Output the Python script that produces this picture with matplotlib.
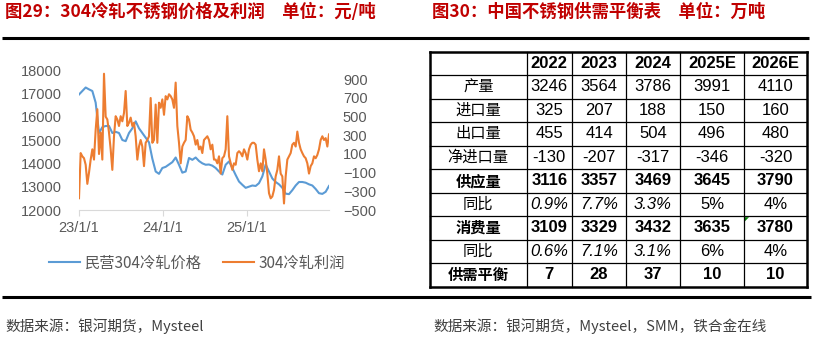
import numpy as np
import pandas as pd
import matplotlib
matplotlib.use("Agg")
import matplotlib.pyplot as plt
from matplotlib.patches import Polygon

W, H = 813, 337
CJK = ["Noto Sans CJK SC", "DejaVu Sans"]
NUM = ["Liberation Sans Narrow", "Liberation Sans", "DejaVu Sans"]
RED = "#C00000"
BLUE = "#5B9BD5"
ORANGE = "#ED7D31"
GRAY = "#595959"

# --- fig 29: 304 cold-rolled price (left axis) and profit (right axis) ---
price = [16950, 17100, 17250, 17170, 17100, 16600, 15300, 15550, 15600, 15600,
         15300, 15350, 15300, 15000, 14950, 15300, 15500, 15800, 15500, 15300,
         15100, 14900, 14200, 13650, 13550, 13800, 13850, 13950, 14050, 14250,
         13940, 13600, 13650, 14230, 14150, 14250, 14100, 14000, 13940, 13950,
         13900, 13800, 13650, 13520, 13940, 14080, 13800, 13500, 13220, 13080,
         12950, 13000, 13050, 13030, 13150, 13440, 13950, 13650, 13350, 13200,
         13100, 12950, 12700, 12680, 12850, 13050, 13200, 13200, 13170, 13100,
         13050, 12900, 12720, 12690, 12780, 13030]
profit = [-374, 110, 75, 55, -15, -220, -100, 40, 150, 40,
          360, 580, 100, 330, 40, 960, 500, 470, 330, 150,
          -70, 290, 505, 470, 400, 505, 450, 540, 775, 400,
          435, 490, 400, 435, 290, 40, 180, 250, 180, -30,
          220, 250, 290, 700, 220, 250, 630, 220, 650, 595,
          685, 520, 720, 685, 740, 720, 685, 595, 865, 400,
          220, 0, 180, 220, 250, 505, 470, 360, 330, 290,
          200, 250, 150, 180, 110, 250, 270, 290, 250, 150,
          200, 40, 40, 0, 75, -110, 55, 75, 150, 505,
          75, 0, -70, 0, -15, 110, 130, 110, 75, 150,
          110, 40, 150, 200, 220, 220, 200, 40, -85, 0,
          -85, 150, 40, -110, -320, -375, -355, -285, -140, -70,
          75, -110, -140, -430, -140, 40, 75, 110, 200, 220,
          180, 340, 220, 150, 110, 75, 55, 0, -110, -30,
          0, 75, 55, 90, 150, 250, 290, 250, 270, 180,
          310]
start, end = "2023-01-01", "2025-12-26"
price_dates = pd.date_range(start, end, periods=len(price))
profit_dates = pd.date_range(start, end, periods=len(profit))
year_ticks = pd.to_datetime(["2023-01-01", "2024-01-01", "2025-01-01"])
year_labels = ["23/1/1", "24/1/1", "25/1/1"]

# --- fig 30: stainless steel supply/demand balance (10k t) ---
years = ["2022", "2023", "2024", "2025E", "2026E"]
row_labels = ["产量", "进口量", "出口量", "净进口量", "供应量", "同比", "消费量", "同比", "供需平衡"]
production = [3246, 3564, 3786, 3991, 4110]
imports = [325, 207, 188, 150, 160]
exports = [455, 414, 504, 496, 480]
net_imports = [-130, -207, -317, -346, -320]
supply = [3116, 3357, 3469, 3645, 3790]
supply_yoy = ["0.9%", "7.7%", "3.3%", "5%", "4%"]
consumption = [3109, 3329, 3432, 3635, 3780]
consumption_yoy = ["0.6%", "7.1%", "3.1%", "6%", "4%"]
balance = [7, 28, 37, 10, 10]

fig = plt.figure(figsize=(W / 100, H / 100), dpi=100)

# pixel-space overlay for titles, rules, table, sources
bg = fig.add_axes([0, 0, 1, 1])
bg.set_xlim(0, W); bg.set_ylim(H, 0)
bg.axis("off")

bg.text(5, 12, "图29：304冷轧不锈钢价格及利润　单位：元/吨", family=CJK, fontsize=12.5,
        fontweight="bold", color=RED, va="center", ha="left")
bg.text(432, 12, "图30：中国不锈钢供需平衡表　单位：万吨", family=CJK, fontsize=12.5,
        fontweight="bold", color=RED, va="center", ha="left")
bg.plot([2, 809], [37.7, 37.7], color="black", lw=2.2, solid_capstyle="butt")
bg.plot([2, 811], [297, 297], color="black", lw=2.2, solid_capstyle="butt")
bg.text(5, 326.5, "数据来源：银河期货，Mysteel", family=CJK, fontsize=10.5,
        color="#404040", va="center", ha="left")
bg.text(433, 326.5, "数据来源：银河期货，Mysteel，SMM，铁合金在线", family=CJK, fontsize=10.5,
        color="#404040", va="center", ha="left")

# line chart
ax = fig.add_axes([79 / W, 1 - 210 / H, 250 / W, 140 / H])
ax.patch.set_alpha(0)
l1, = ax.plot(price_dates, price, color=BLUE, lw=1.5, label="民营304冷轧价格")
ax.set_ylim(12000, 18000)
ax.set_yticks(np.arange(12000, 18001, 1000))
ax.set_xlim(pd.Timestamp(start), pd.Timestamp(end))
ax.set_xticks(year_ticks)
ax.set_xticklabels(year_labels)
ax2 = ax.twinx()
l2, = ax2.plot(profit_dates, profit, color=ORANGE, lw=1.5, label="304冷轧利润")
ax2.set_ylim(-500, 1000)
ax2.set_yticks(np.arange(-500, 901, 200))
for a in (ax, ax2):
    for s in ("top", "left", "right"):
        a.spines[s].set_visible(False)
    a.spines["bottom"].set_color("#D9D9D9")
ax2.spines["bottom"].set_visible(False)
ax.tick_params(axis="y", length=0, pad=12, labelcolor=GRAY, labelsize=10.5)
ax2.tick_params(axis="y", length=0, pad=10, labelcolor=GRAY, labelsize=10.5)
ax.tick_params(axis="x", length=4, color="#D9D9D9", pad=4, labelcolor=GRAY, labelsize=10.5)
for lab in ax.get_yticklabels() + ax2.get_yticklabels() + ax.get_xticklabels():
    lab.set_family(NUM)

fig.legend(handles=[l1, l2], loc="center", bbox_to_anchor=(197 / W, 1 - 263 / H),
           ncol=2, frameon=False, handlelength=2.0, handletextpad=0.3, columnspacing=1.4,
           prop={"family": CJK, "size": 11}, labelcolor=GRAY)

# table
col_x = [430, 526.5, 572, 626, 680, 744, 807]
row_y = [51.7 + 23.5 * i for i in range(11)]
for i, y in enumerate(row_y):
    outer = i in (0, len(row_y) - 1)
    bg.plot([col_x[0], col_x[-1]], [y, y], color="black", lw=1.8 if outer else 0.9,
            solid_capstyle="projecting")
for j, x in enumerate(col_x):
    outer = j in (0, len(col_x) - 1)
    bg.plot([x, x], [row_y[0], row_y[-1]], color="black", lw=1.8 if outer else 0.9,
            solid_capstyle="projecting")

rows = [production, imports, exports, net_imports, supply, supply_yoy,
        consumption, consumption_yoy, balance]
bold_rows = {"供应量", "消费量", "供需平衡"}
cx = [(col_x[j] + col_x[j + 1]) / 2 for j in range(len(col_x) - 1)]
cy = [(row_y[i] + row_y[i + 1]) / 2 for i in range(len(row_y) - 1)]
for j, yr in enumerate(years):
    bg.text(cx[j + 1], cy[0], yr, family=NUM, fontsize=12, fontweight="bold",
            ha="center", va="center")
for i, (lab, vals) in enumerate(zip(row_labels, rows)):
    y = cy[i + 1]
    weight = "bold" if lab in bold_rows else "normal"
    style = "italic" if lab == "同比" else "normal"
    bg.text(cx[0], y, lab, family=CJK, fontsize=11, fontweight=weight, fontstyle=style,
            ha="center", va="center")
    for j, v in enumerate(vals):
        vstyle = style if not (lab == "同比" and j >= 3) else "normal"
        bg.text(cx[j + 1], y, str(v), family=NUM, fontsize=12, fontweight=weight,
                fontstyle=vstyle, ha="center", va="center")

# comment marker in the 2026E consumption cell
x0, y0 = col_x[5] + 1, row_y[7] + 1
bg.add_patch(Polygon([[x0, y0], [x0 + 4, y0], [x0, y0 + 4]], closed=True, color="#008000", lw=0))

fig.savefig("out.png", dpi=100)
